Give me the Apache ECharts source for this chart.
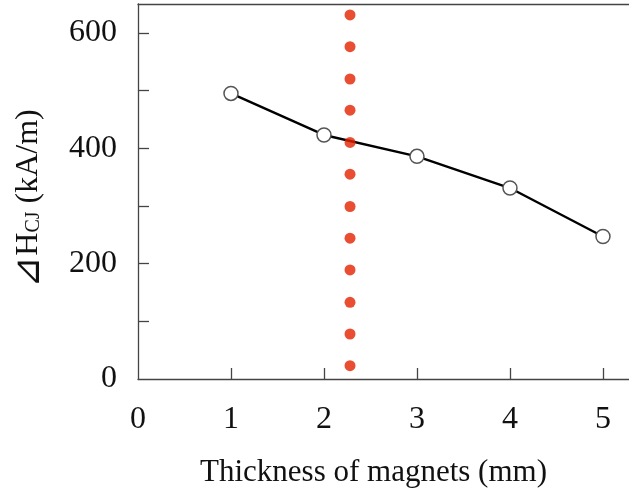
<!DOCTYPE html>
<html>
<head>
<meta charset="utf-8">
<script src="https://cdn.jsdelivr.net/npm/echarts@6/dist/echarts.min.js"></script>
<style>
  html, body { margin: 0; padding: 0; background: #fff; }
  #chart { width: 629px; height: 493px; }
</style>
</head>
<body>
<div id="chart"></div>
<script>
// Coercivity loss versus magnet thickness
const thickness = [1, 2, 3, 4, 5];
const deltaHcj = [495, 423, 386, 331, 247];

// Vertical dotted marker line
const markerX = 2.28;
const markerDots = [23, 78, 133, 189, 244, 299, 355, 410, 466, 520, 576, 631];

// Axis ticks and labels
const xTicks = [1, 2, 3, 4, 5];
const xLabels = [0, 1, 2, 3, 4, 5];
const yTicks = [100, 200, 300, 400, 500, 600];
const yLabels = [0, 200, 400, 600];

const serif = '"Liberation Serif", "Times New Roman", serif';
const axisColor = '#444';

const chart = echarts.init(document.getElementById('chart'), null, { renderer: 'canvas' });

chart.setOption({
  animation: false,
  backgroundColor: '#fff',
  grid: { left: 138, right: 0, top: 4, bottom: 113, containLabel: false },
  xAxis: [{
    type: 'value',
    min: 0,
    max: 5.28,
    name: 'Thickness of magnets (mm)',
    nameLocation: 'middle',
    nameGap: 78,
    nameTextStyle: { fontFamily: serif, fontSize: 31, color: '#111', padding: [0, 20, 0, 0] },
    axisLine: { show: true, lineStyle: { color: axisColor, width: 1.3 } },
    axisTick: { show: true, inside: true, length: 11, customValues: xTicks, lineStyle: { color: axisColor, width: 1.3 } },
    axisLabel: { customValues: xLabels, margin: 25, fontFamily: serif, fontSize: 32, color: '#111' },
    splitLine: { show: false }
  }, {
    type: 'value',
    position: 'top',
    min: 0,
    max: 5.28,
    axisLine: { show: true, lineStyle: { color: axisColor, width: 1.3 } },
    axisTick: { show: false },
    axisLabel: { show: false },
    splitLine: { show: false }
  }],
  yAxis: {
    type: 'value',
    min: 0,
    max: 650,
    name: '{d|⊿}{a|H}{b|CJ}{a| (kA/m)}',
    nameLocation: 'middle',
    nameGap: 90,
    nameRotate: 90,
    nameTextStyle: {
      color: '#111',
      padding: [0, 14, 0, 0],
      rich: {
        d: { fontFamily: serif, fontSize: 38, color: '#111' },
        a: { fontFamily: serif, fontSize: 32, color: '#111' },
        b: { fontFamily: serif, fontSize: 20, color: '#111', padding: [10, 0, 0, 0] }
      }
    },
    axisLine: { show: true, lineStyle: { color: axisColor, width: 1.3 } },
    axisTick: { show: true, inside: true, length: 11, customValues: yTicks, lineStyle: { color: axisColor, width: 1.3 } },
    axisLabel: { customValues: yLabels, margin: 21, fontFamily: serif, fontSize: 32, color: '#111' },
    splitLine: { show: false }
  },
  series: [{
    type: 'line',
    data: thickness.map((t, i) => [t, deltaHcj[i]]),
    symbol: 'circle',
    symbolSize: 14,
    lineStyle: { color: '#000', width: 2.4 },
    itemStyle: { color: '#fff', borderColor: '#555', borderWidth: 1.5 },
    z: 2
  }, {
    type: 'scatter',
    data: markerDots.map(v => [markerX, v]),
    symbol: 'circle',
    symbolSize: 11,
    itemStyle: { color: '#e32200' },
    z: 3
  }]
});
</script>
</body>
</html>
